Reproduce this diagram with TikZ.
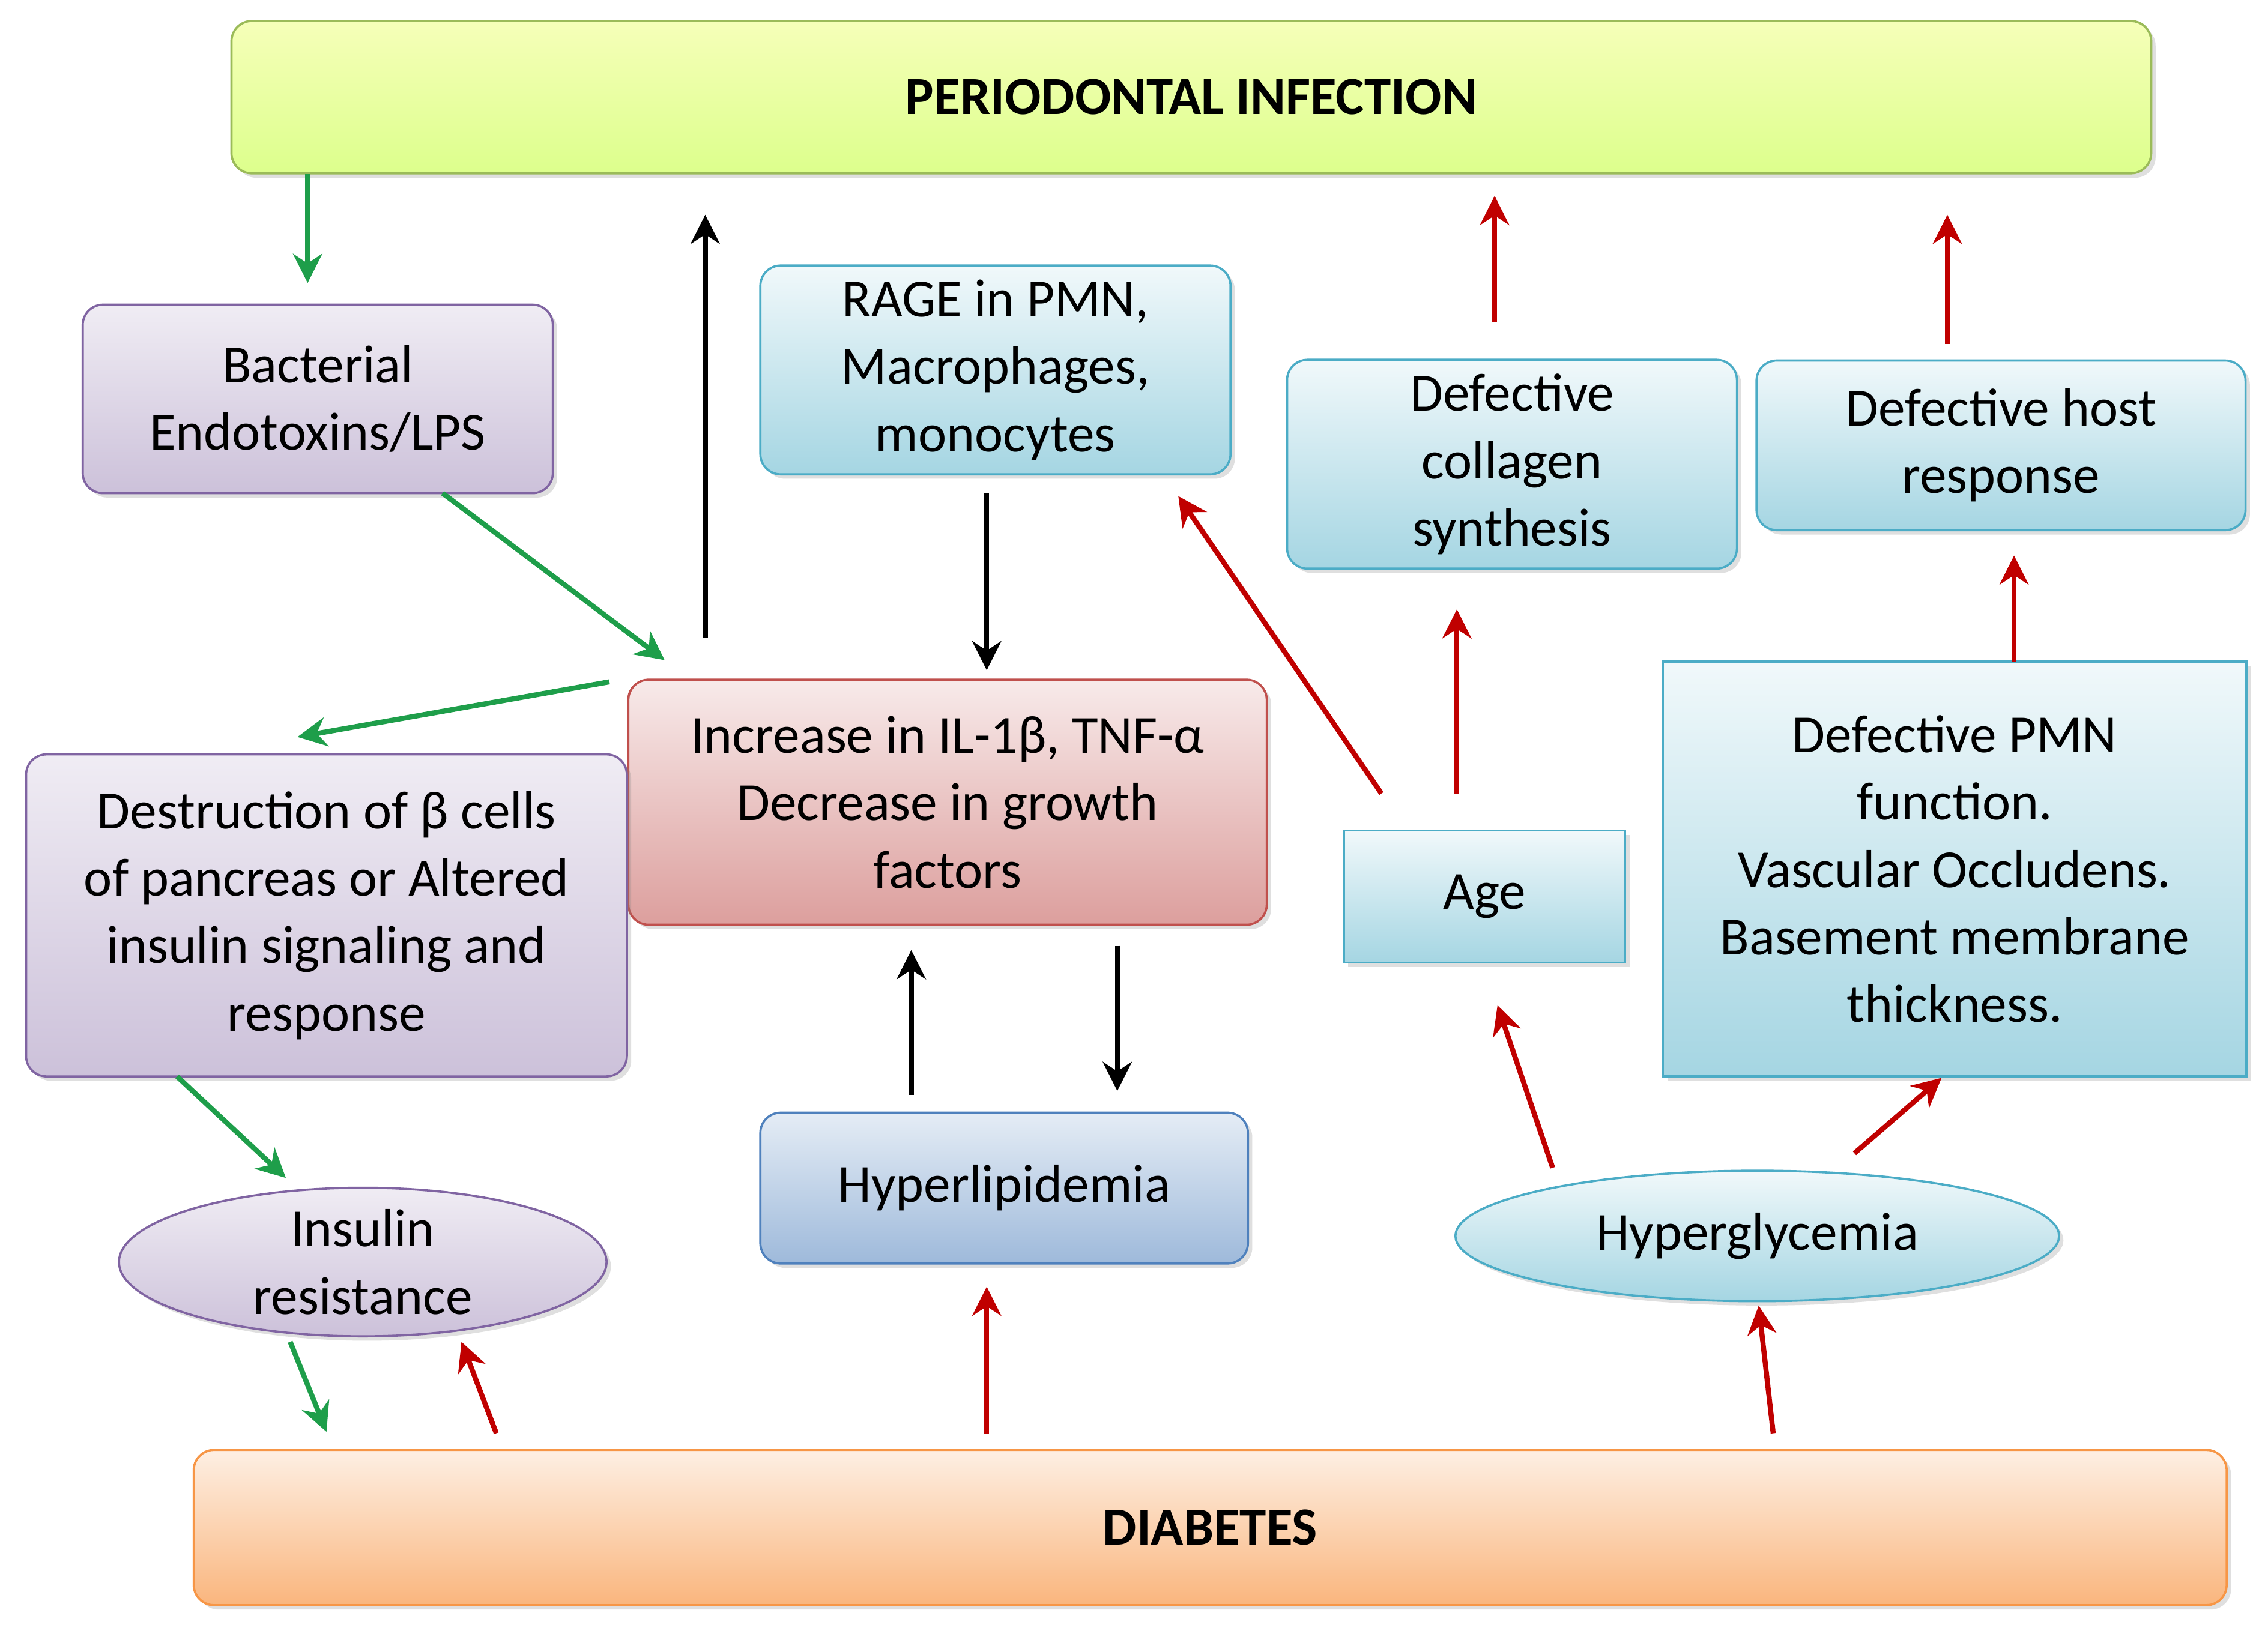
\documentclass[tikz,border=0pt]{standalone}
\usepackage{fontspec}
\setmainfont{Carlito}
\usetikzlibrary{shapes.geometric,shadows,arrows.meta}
\definecolor{gB}{HTML}{9BBB59}\definecolor{pB}{HTML}{8064A2}\definecolor{cB}{HTML}{4BACC6}
\definecolor{rB}{HTML}{C0504D}\definecolor{bB}{HTML}{4F81BD}\definecolor{oB}{HTML}{F79646}
\definecolor{gA}{HTML}{1E9E4A}\definecolor{rA}{HTML}{C00000}
\tikzset{
 base/.style={draw,line width=1.5pt,rounded corners=14pt,align=center,font=\fontsize{37}{46.5}\selectfont,inner sep=0pt,drop shadow={opacity=0.25,shadow xshift=3pt,shadow yshift=-3pt}},
 grn/.style={base,draw=gB,top color=white!40!green!20!yellow!30,bottom color=green!30!yellow!45},
 pur/.style={base,draw=pB,top color=pB!12,bottom color=pB!40},
 cyn/.style={base,draw=cB,top color=cB!8,bottom color=cB!50},
 red/.style={base,draw=rB,top color=rB!12,bottom color=rB!55},
 blu/.style={base,draw=bB,top color=bB!15,bottom color=bB!55},
 org/.style={base,draw=oB,top color=oB!15,bottom color=oB!70},
 arr/.style={line width=3.5pt,-{Stealth[length=20pt,width=20pt]}},
 ga/.style={arr,draw=gA},ba/.style={arr,draw=black},ra/.style={arr,draw=rA}}
\begin{document}
\begin{tikzpicture}[x=1pt,y=-1pt]
\useasboundingbox[fill=white] (0,0) rectangle (1563,1120);
\node[grn,minimum width=1323pt,minimum height=105pt,font=\bfseries\fontsize{37}{46}\selectfont] (pi) at (821,67) {PERIODONTAL INFECTION};
\node[pur,minimum width=324pt,minimum height=130pt] (bac) at (219,275) {Bacterial\\Endotoxins/LPS};
\node[cyn,minimum width=324pt,minimum height=144pt] (rage) at (686,255) {RAGE in PMN,\\Macrophages,\\monocytes};
\node[cyn,minimum width=310pt,minimum height=144pt] (col) at (1042,320) {Defective\\collagen\\synthesis};
\node[cyn,minimum width=337pt,minimum height=117pt] (host) at (1379,307) {Defective host\\response};
\node[red,minimum width=440pt,minimum height=169pt] (il) at (653,553) {Increase in IL-1β, TNF-α\\Decrease in growth\\factors};
\node[pur,minimum width=414pt,minimum height=222pt] (des) at (225,631) {Destruction of β cells\\of pancreas or Altered\\insulin signaling and\\response};
\node[cyn,rounded corners=0pt,minimum width=194pt,minimum height=91pt] (age) at (1023,618) {Age};
\node[cyn,rounded corners=0pt,minimum width=402pt,minimum height=286pt] (pmn) at (1347,599) {Defective PMN\\function.\\Vascular Occludens.\\Basement membrane\\thickness.};
\node[blu,minimum width=336pt,minimum height=104pt] (hl) at (692,819) {Hyperlipidemia};
\node[pur,ellipse,minimum width=336pt,minimum height=100pt] (ir) at (250,870) {Insulin\\resistance};
\node[cyn,ellipse,minimum width=416pt,minimum height=90pt] (hg) at (1211,852) {Hyperglycemia};
\node[org,minimum width=1401pt,minimum height=107pt,font=\bfseries\fontsize{37}{46}\selectfont] (dia) at (834,1053) {DIABETES};
\foreach \n/\x/\y in {g1a/212/120,g1b/212/195,g2a/305/340,g2b/458/455,g3a/420/470,g3b/205/508,g4a/122/742,g4b/197/812,g5a/200/925,g5b/225/987,
 b1a/486/440,b1b/486/148,b2a/680/340,b2b/680/462,b3a/628/755,b3b/628/655,b4a/770/652,b4b/770/752,
 r1a/342/988,r1b/318/925,r2a/680/988,r2b/680/887,r3a/1222/988,r3b/1212/900,r4a/1070/805,r4b/1032/693,r5a/1278/795,r5b/1338/743,
 r6a/952/547,r6b/812/342,r7a/1004/547,r7b/1004/420,r8a/1030/222,r8b/1030/135,r9a/1388/456,r9b/1388/383,r10a/1342/237,r10b/1342/148}
 {\coordinate (\n) at (\x,\y);}
\foreach \i in {1,...,5}{\draw[ga] (g\i a) -- (g\i b);}
\foreach \i in {1,...,4}{\draw[ba] (b\i a) -- (b\i b);}
\foreach \i in {1,...,10}{\draw[ra] (r\i a) -- (r\i b);}
\end{tikzpicture}
\end{document}
